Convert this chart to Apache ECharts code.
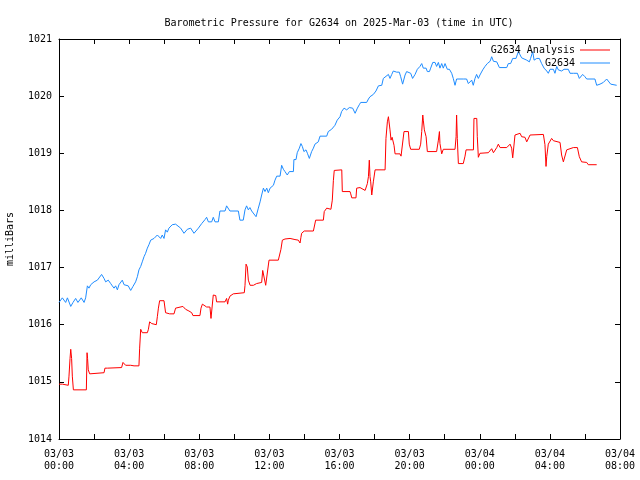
<!DOCTYPE html>
<html><head><meta charset="utf-8">
<script src="https://cdn.jsdelivr.net/npm/echarts@6/dist/echarts.min.js"></script>
<style>html,body{margin:0;padding:0;background:#fff}#c{width:640px;height:480px}</style>
</head><body><div id="c"></div>
<script>
// Observed station (hours since 2025-03-03 00:00 UTC, millibars)
const obsHours = [0.00,0.19,0.38,0.48,0.67,0.80,0.95,1.08,1.27,1.43,1.52,1.62,1.71,1.81,1.90,2.00,2.09,2.19,2.28,2.43,2.57,2.66,2.81,2.95,3.04,3.14,3.23,3.33,3.42,3.61,3.71,3.95,4.09,4.22,4.37,4.47,4.56,4.66,4.75,4.85,4.94,5.04,5.13,5.23,5.32,5.42,5.51,5.61,5.80,5.89,5.99,6.08,6.18,6.27,6.46,6.65,6.94,7.13,7.32,7.51,7.70,7.95,
8.04,8.14,8.23,8.33,8.42,8.52,8.71,8.80,8.90,9.09,9.18,9.47,9.56,9.66,9.75,10.23,10.32,10.51,10.61,10.70,10.80,10.89,10.99,11.08,11.24,11.37,11.47,11.56,11.66,11.75,11.85,11.94,12.04,12.13,12.23,12.32,12.42,12.61,12.70,12.80,12.89,13.02,13.14,13.37,13.40,13.52,13.59,13.71,13.80,13.88,13.97,14.09,14.17,14.28,14.41,14.51,14.60,14.70,14.79,14.89,15.27,15.36,15.55,15.74,15.87,
16.03,16.12,16.26,16.41,16.56,16.75,16.89,17.02,17.13,17.21,17.55,17.65,17.74,17.84,17.93,18.08,18.22,18.41,18.50,18.60,18.79,18.88,18.98,19.07,19.17,19.26,19.41,19.49,19.60,19.74,19.83,19.93,20.06,20.17,20.25,20.31,20.44,20.59,20.69,20.78,20.94,21.01,21.13,21.20,21.32,21.45,21.54,21.64,21.73,21.83,21.92,22.02,22.15,22.27,22.40,22.49,22.59,22.68,23.06,23.25,23.35,23.44,23.54,23.63,23.73,23.82,23.92,24.01,24.17,24.30,24.43,24.59,24.68,24.78,24.97,25.12,25.54,25.63,25.76,25.88,26.07,26.20,26.30,26.39,26.49,26.68,26.83,26.90,27.02,27.10,27.25,27.40,27.53,27.67,27.82,27.91,28.01,28.20,28.29,28.39,28.48,28.58,28.67,28.81,28.92,29.05,29.15,29.34,29.43,29.57,29.68,29.76,29.87,30.00,30.10,30.57,30.67,30.86,31.05,31.24,31.33,31.47,31.81];
const obsValues = [1016.39,1016.47,1016.39,1016.47,1016.32,1016.39,1016.46,1016.39,1016.47,1016.39,1016.47,1016.68,1016.64,1016.70,1016.72,1016.75,1016.72,1016.78,1016.81,1016.88,1016.81,1016.75,1016.78,1016.72,1016.68,1016.64,1016.68,1016.61,1016.70,1016.78,1016.70,1016.68,1016.60,1016.67,1016.75,1016.84,1016.96,1017.02,1017.10,1017.19,1017.25,1017.34,1017.40,1017.48,1017.45,1017.51,1017.48,1017.57,1017.51,1017.57,1017.51,1017.66,1017.62,1017.69,1017.75,1017.76,1017.69,1017.60,1017.67,1017.69,1017.60,1017.69,
1017.70,1017.77,1017.80,1017.84,1017.88,1017.80,1017.80,1017.88,1017.80,1017.80,1017.99,1017.99,1018.08,1018.08,1017.99,1017.99,1017.83,1017.83,1018.01,1018.08,1018.01,1018.05,1017.99,1017.99,1017.89,1018.04,1018.15,1018.27,1018.39,1018.33,1018.39,1018.31,1018.39,1018.36,1018.44,1018.53,1018.60,1018.60,1018.79,1018.72,1018.68,1018.62,1018.68,1018.68,1018.89,1018.89,1019.01,1019.09,1019.17,1019.12,1019.03,1019.06,1019.00,1018.91,1019.03,1019.09,1019.16,1019.13,1019.20,1019.30,1019.30,1019.38,1019.42,1019.49,1019.58,
1019.64,1019.73,1019.79,1019.76,1019.80,1019.79,1019.70,1019.79,1019.85,1019.89,1019.89,1019.95,1019.99,1019.96,1020.03,1020.09,1020.18,1020.19,1020.31,1020.31,1020.38,1020.31,1020.38,1020.44,1020.47,1020.42,1020.42,1020.34,1020.21,1020.37,1020.43,1020.46,1020.40,1020.31,1020.31,1020.38,1020.47,1020.52,1020.57,1020.49,1020.49,1020.43,1020.43,1020.49,1020.59,1020.59,1020.52,1020.59,1020.49,1020.57,1020.49,1020.57,1020.47,1020.47,1020.40,1020.31,1020.19,1020.30,1020.30,1020.30,1020.22,1020.19,1020.28,1020.19,1020.31,1020.38,1020.31,1020.37,1020.46,1020.52,1020.57,1020.61,1020.69,1020.61,1020.60,1020.50,1020.50,1020.57,1020.57,1020.66,1020.66,1020.78,1020.81,1020.67,1020.66,1020.63,1020.60,1020.66,1020.78,1020.63,1020.66,1020.66,1020.57,1020.49,1020.44,1020.40,1020.47,1020.47,1020.40,1020.52,1020.46,1020.49,1020.44,1020.47,1020.49,1020.47,1020.40,1020.40,1020.38,1020.40,1020.31,1020.31,1020.38,1020.34,1020.30,1020.30,1020.19,1020.21,1020.24,1020.30,1020.28,1020.21,1020.19];

// Analysis
const anaHours = [0.00,0.19,0.20,0.53,0.57,0.63,0.67,0.72,0.76,0.82,1.56,1.60,1.63,1.67,1.75,1.81,2.57,2.62,2.76,2.85,3.57,3.65,3.80,4.09,4.14,4.28,4.56,4.60,4.66,4.75,5.04,5.10,5.17,5.29,5.38,5.55,5.61,5.67,5.74,5.99,6.08,6.31,6.56,6.65,6.75,7.07,7.22,7.41,7.57,7.64,8.04,8.10,8.18,8.42,8.61,8.67,8.75,8.80,8.94,8.99,9.47,9.56,9.62,9.66,9.75,9.94,10.04,10.57,10.61,10.67,10.74,10.80,10.90,10.99,11.09,11.27,11.56,11.62,11.69,11.79,11.90,11.98,12.04,12.51,12.61,12.66,12.74,12.89,13.18,13.46,13.65,13.75,13.80,13.84,13.99,14.51,14.60,14.64,15.08,15.13,15.27,15.51,15.59,15.65,15.70,16.13,16.16,16.60,16.64,16.70,16.94,16.98,17.17,17.27,17.46,17.55,17.59,17.65,17.70,17.74,17.78,17.84,17.89,17.93,18.03,18.60,18.65,18.73,18.79,18.84,18.88,18.94,19.00,19.07,19.11,19.17,19.45,19.51,19.60,19.68,19.93,19.98,20.06,20.55,20.63,20.69,20.75,20.78,20.84,20.94,21.01,21.54,21.64,21.70,21.73,21.83,21.92,22.59,22.65,22.68,22.72,22.78,23.06,23.16,23.22,23.64,23.67,23.83,23.86,23.92,24.01,24.11,24.49,24.59,24.68,24.78,24.87,24.97,25.06,25.16,25.54,25.73,25.76,25.82,25.88,25.95,26.01,26.11,26.30,26.39,26.58,26.68,26.77,26.87,26.96,27.63,27.72,27.78,27.82,27.91,28.01,28.10,28.20,28.29,28.58,28.67,28.77,28.86,28.96,29.05,29.34,29.43,29.57,29.68,29.81,30.10,30.19,30.67];
const anaValues = [1014.96,1014.96,1014.94,1014.94,1015.10,1015.41,1015.57,1015.41,1015.10,1014.86,1014.86,1015.51,1015.41,1015.21,1015.14,1015.15,1015.16,1015.24,1015.24,1015.25,1015.25,1015.34,1015.29,1015.29,1015.31,1015.28,1015.28,1015.59,1015.92,1015.86,1015.86,1015.92,1016.05,1016.02,1016.00,1016.00,1016.14,1016.29,1016.42,1016.42,1016.21,1016.19,1016.19,1016.29,1016.32,1016.32,1016.27,1016.24,1016.21,1016.16,1016.16,1016.29,1016.36,1016.31,1016.31,1016.11,1016.11,1016.52,1016.51,1016.40,1016.40,1016.46,1016.36,1016.43,1016.50,1016.54,1016.56,1016.56,1016.69,1017.06,1017.01,1016.78,1016.69,1016.72,1016.69,1016.72,1016.74,1016.95,1016.95,1016.69,1016.69,1017.13,1017.14,1017.13,1017.16,1017.32,1017.48,1017.50,1017.51,1017.49,1017.48,1017.43,1017.53,1017.60,1017.64,1017.64,1017.66,1017.83,1017.83,1017.98,1018.04,1018.02,1018.18,1018.52,1018.70,1018.71,1018.33,1018.33,1018.29,1018.22,1018.22,1018.39,1018.40,1018.37,1018.35,1018.36,1018.47,1018.59,1018.88,1018.59,1018.50,1018.27,1018.30,1018.50,1018.71,1018.71,1019.26,1019.55,1019.64,1019.64,1019.41,1019.23,1019.28,1019.28,1019.14,1018.99,1018.99,1018.95,1018.95,1019.38,1019.38,1019.16,1019.07,1019.07,1019.16,1019.38,1019.67,1019.58,1019.41,1019.29,1019.03,1019.03,1019.23,1019.38,1019.17,1018.99,1019.07,1019.07,1019.29,1019.67,1019.26,1018.82,1018.82,1018.95,1019.06,1019.06,1019.61,1019.61,1019.29,1018.93,1019.00,1019.01,1019.01,1019.00,1019.08,1019.01,1019.03,1019.10,1019.16,1019.10,1019.10,1019.16,1019.17,1019.09,1018.92,1018.92,1019.32,1019.33,1019.35,1019.29,1019.28,1019.20,1019.19,1019.32,1019.33,1019.33,1019.15,1018.77,1018.94,1019.16,1019.19,1019.26,1019.22,1019.19,1019.19,1018.97,1018.85,1018.82,1019.06,1019.09,1019.10,1019.08,1019.10,1018.94,1018.85,1018.84,1018.80,1018.80];

const xTickLabels = ['03/03\n00:00','03/03\n04:00','03/03\n08:00','03/03\n12:00','03/03\n16:00','03/03\n20:00','03/04\n00:00','03/04\n04:00','03/04\n08:00'];
const yTickLabels = ['1014','1015','1016','1017','1018','1019','1020','1021'];
const titleText = 'Barometric Pressure for G2634 on 2025-Mar-03 (time in UTC)';
const seriesNames = ['G2634 Analysis','G2634'];

const FONT = 'DejaVu Sans Mono';
const zip = (a,b)=>a.map((t,i)=>[t,b[i]]);
const chart = echarts.init(document.getElementById('c'), null, {renderer:'canvas'});
const axisLineStyle = {color:'#000', width:1};
const tick = {show:true, inside:true, length:5, lineStyle:{color:'#000'}};
chart.setOption({
  animation:false,
  backgroundColor:'#fff',
  title:{text:titleText, left:334, textAlign:'center', top:13,
    textStyle:{fontFamily:FONT, fontSize:10, fontWeight:'normal', color:'#000'}},
  legend:{orient:'vertical', right:25, top:40, align:'right', itemGap:3,
    itemWidth:30, itemHeight:1, icon:'rect',
    textStyle:{fontFamily:FONT, fontSize:10, color:'#000', padding:[0,0,0,0]},
    data:seriesNames},
  grid:{left:59, right:20, top:39, bottom:41, containLabel:false, outerBoundsMode:'none'},
  xAxis:[{type:'value', min:0, max:32, interval:2, position:'bottom',
      axisLine:{show:true, onZero:false, lineStyle:axisLineStyle}, axisTick:tick, splitLine:{show:false},
      axisLabel:{margin:9, lineHeight:12, fontFamily:FONT, fontSize:10, color:'#000',
        formatter:v=> (v%4===0 ? xTickLabels[v/4] : '')}},
    {type:'value', min:0, max:32, interval:2, position:'top',
      axisLine:{show:true, onZero:false, lineStyle:axisLineStyle}, axisTick:tick, splitLine:{show:false},
      axisLabel:{show:false}}],
  yAxis:[{type:'value', min:1014, max:1021, interval:1, position:'left',
      name:'milliBars', nameLocation:'middle', nameRotate:90, nameGap:44,
      nameTextStyle:{fontFamily:FONT, fontSize:10, color:'#000'},
      axisLine:{show:true, onZero:false, lineStyle:axisLineStyle}, axisTick:tick, splitLine:{show:false},
      axisLabel:{margin:7, fontFamily:FONT, fontSize:10, color:'#000',
        formatter:v=>yTickLabels[Math.round(v-1014)]}},
    {type:'value', min:1014, max:1021, interval:1, position:'right',
      axisLine:{show:true, onZero:false, lineStyle:axisLineStyle}, axisTick:tick, splitLine:{show:false},
      axisLabel:{show:false}}],
  series:[
    {name:seriesNames[0], type:'line', data:zip(anaHours, anaValues), showSymbol:false, symbol:'none',
      lineStyle:{color:'#ff0000', width:1}, itemStyle:{color:'#ff0000'}, z:3},
    {name:seriesNames[1], type:'line', data:zip(obsHours, obsValues), showSymbol:false, symbol:'none',
      lineStyle:{color:'#1e8cff', width:1}, itemStyle:{color:'#1e8cff'}, z:2}
  ]
});
</script></body></html>
